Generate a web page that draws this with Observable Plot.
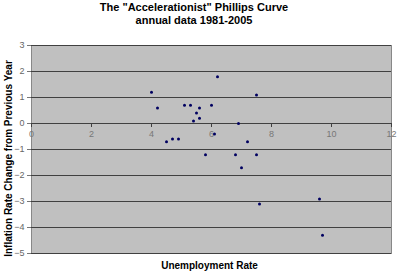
<!DOCTYPE html>
<html>
<head>
<meta charset="utf-8">
<script src="https://cdn.jsdelivr.net/npm/d3@7"></script>
<script src="https://cdn.jsdelivr.net/npm/@observablehq/plot@0.6"></script>
<style>
  html, body { margin: 0; padding: 0; background: #fff; }
  #wrap { width: 400px; height: 276px; overflow: hidden; font-family: Arial, "Liberation Sans", sans-serif; }
  #title { height: 28px; box-sizing: border-box; padding-top: 1px; padding-right: 12px; text-align: center; font-weight: bold; font-size: 11px; line-height: 13px; color: #000; }
  svg { display: block; }
</style>
</head>
<body>
<div id="wrap">
  <div id="title">The "Accelerationist" Phillips Curve<br>annual data 1981-2005</div>
  <div id="chart"></div>
</div>
<script>
const unemployment = [4.0, 4.2, 4.5, 4.7, 4.9, 5.1, 5.3, 5.4, 5.5, 5.6, 5.6, 6.0, 6.2, 7.5, 6.9, 6.1, 7.2, 5.8, 6.8, 7.5, 7.0, 7.6, 9.6, 9.7];
const inflationChange = [1.2, 0.6, -0.7, -0.6, -0.6, 0.7, 0.7, 0.1, 0.4, 0.6, 0.2, 0.7, 1.8, 1.1, 0.0, -0.4, -0.7, -1.2, -1.2, -1.2, -1.7, -3.1, -2.9, -4.3];
const xTicks = [0, 2, 4, 6, 8, 10, 12];
const yTicks = [-5, -4, -3, -2, -1, 0, 1, 2, 3];
const xLabel = "Unemployment Rate";
const yLabel = "Inflation Rate Change from Previous Year";

const points = unemployment.map((u, i) => ({u, d: inflationChange[i]}));

const chart = Plot.plot({
  width: 400,
  height: 248,
  marginLeft: 31,
  marginRight: 9,
  marginTop: 17,
  marginBottom: 23,
  style: {fontFamily: "Arial, 'Liberation Sans', sans-serif", fontSize: "9px", background: "#fff"},
  x: {domain: [0, 12], axis: null},
  y: {domain: [-5, 3]},
  marks: [
    Plot.frame({fill: "#c0c0c0", stroke: "#888"}),
    Plot.ruleY(yTicks, {y: d => d, stroke: "#404040", strokeWidth: 1.2}),
    Plot.axisY(yTicks, {tickSize: 4, tickPadding: 3, stroke: "#777", fill: "#666", label: null, fontSize: 9}),
    Plot.ruleX(xTicks, {x: d => d, y1: 0, y2: 0, insetBottom: -4, stroke: "#404040"}),
    Plot.text(xTicks, {x: d => d, y: 0, text: d => String(d), dy: 11, fill: "#777", fontSize: 9}),
    Plot.dot(points, {x: "u", y: "d", symbol: "circle", r: 1.5, fill: "#000060", stroke: "none"}),
    Plot.text([yLabel], {text: d => d, frameAnchor: "left", textAnchor: "middle", lineAnchor: "middle", rotate: -90, dx: -23, dy: 9, fontWeight: "bold", fontSize: 10, fill: "#000"}),
    Plot.text([xLabel], {text: d => d, frameAnchor: "bottom", textAnchor: "middle", lineAnchor: "middle", dx: -2, dy: 12, fontWeight: "bold", fontSize: 10, fill: "#000"})
  ]
});
document.getElementById("chart").appendChild(chart);
</script>
</body>
</html>
